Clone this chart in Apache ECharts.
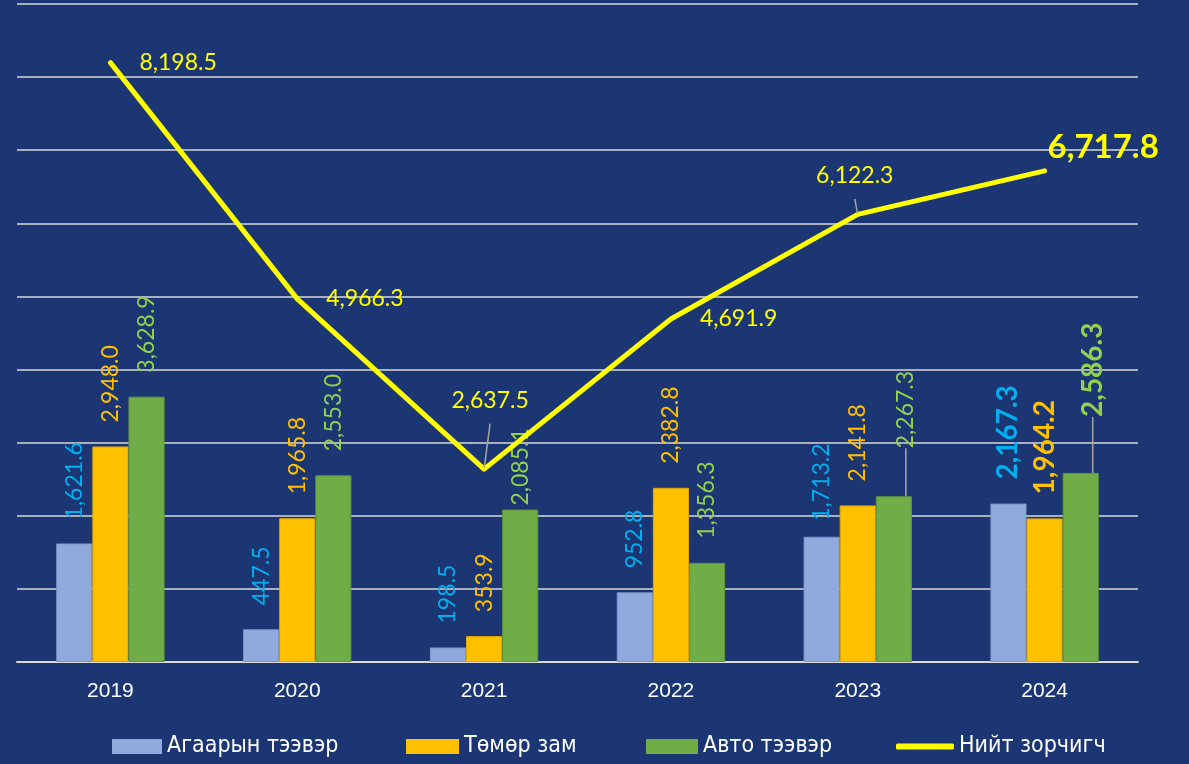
<!DOCTYPE html>
<html>
<head>
<meta charset="utf-8">
<script src="https://cdn.jsdelivr.net/npm/echarts@6/dist/echarts.min.js"></script>
<style>
html,body{margin:0;padding:0;background:#1b3673;}
#chart{width:1189px;height:764px;}
</style>
</head>
<body>
<div id="chart"></div>
<script>
const years = ['2019', '2020', '2021', '2022', '2023', '2024'];
const airValues = [1621.6, 447.5, 198.5, 952.8, 1713.2, 2167.3];
const railValues = [2948.0, 1965.8, 353.9, 2382.8, 2141.8, 1964.2];
const roadValues = [3628.9, 2553.0, 2085.1, 1356.3, 2267.3, 2586.3];
const totalValues = [8198.5, 4966.3, 2637.5, 4691.9, 6122.3, 6717.8];
const seriesNames = ['Агаарын тээвэр', 'Төмөр зам', 'Авто тээвэр', 'Нийт зорчигч'];

const fmt = v => v.toLocaleString('en-US', {minimumFractionDigits: 1, maximumFractionDigits: 1});
const labelFont = 'Lato, "Open Sans", sans-serif';
const lastIdx = years.length - 1;

function barData(values, extra) {
  return values.map((v, i) => {
    const item = {value: v};
    if (i === lastIdx) item.label = {fontSize: 28, fontWeight: 'bold'};
    if (extra && extra[i]) Object.assign(item, extra[i]);
    return item;
  });
}

function barSeries(name, values, color, border, labelColor, extra, layout) {
  return {
    name: name,
    type: 'bar',
    data: barData(values, extra),
    barGap: '0%',
    barCategoryGap: '42%',
    itemStyle: {color: color, borderColor: border, borderWidth: 1},
    label: {
      show: true,
      position: 'top',
      rotate: 90,
      align: 'left',
      verticalAlign: 'middle',
      distance: 24,
      color: labelColor,
      fontFamily: labelFont,
      fontSize: 23,
      formatter: p => fmt(p.value)
    },
    labelLine: {show: false, lineStyle: {color: '#a6a6a6', width: 1.5}},
    labelLayout: layout,
    z: 2
  };
}

const airExtra = {4: {label: {distance: 16}}};
const roadExtra = {2: {label: {distance: 4}}, 4: {labelLine: {show: true}}, 5: {labelLine: {show: true}}};
// label is rotated: dx runs along the text (upwards), dy across it
const roadLayout = function (p) {
  if (p.dataIndex === 4) return {dx: 24, dy: 12};
  if (p.dataIndex === 5) return {dx: 32, dy: 12};
  return {};
};

const lineData = totalValues.map((v, i) => {
  const item = {value: v};
  if (i === 2) { item.label = {position: 'top', distance: 56, offset: [6, 0]}; item.labelLine = {show: true}; }
  if (i === 4) { item.label = {position: 'top', distance: 26, offset: [-3, 0]}; item.labelLine = {show: true}; }
  if (i === lastIdx) { item.label = {position: 'right', distance: 2, offset: [0, -23], fontSize: 33, fontWeight: 'bold'}; }
  return item;
});

const chart = echarts.init(document.getElementById('chart'), null, {renderer: 'canvas'});
const legendText = {color: '#ffffff', fontSize: 23, fontFamily: '"Liberation Sans Narrow", "DejaVu Sans Condensed", "Liberation Sans", sans-serif'};
function legend(name, left, icon, w, h) {
  return {
    data: [name], left: left, top: 730, icon: icon, itemWidth: w, itemHeight: h,
    itemGap: 0, textStyle: legendText, selectedMode: false,
    itemStyle: {borderWidth: 0}
  };
}

chart.setOption({
  backgroundColor: '#1b3673',
  animation: false,
  grid: {left: 17, right: 51, top: 4, bottom: 102},
  legend: [
    legend(seriesNames[0], 107, 'rect', 50, 15),
    legend(seriesNames[1], 401, 'rect', 53, 15),
    legend(seriesNames[2], 641, 'rect', 52, 15),
    legend(seriesNames[3], 891, 'roundRect', 58, 6)
  ],
  xAxis: {
    type: 'category',
    data: years,
    axisLine: {show: true, lineStyle: {color: '#d9d9d9', width: 2}},
    axisTick: {show: false},
    axisLabel: {color: '#ffffff', fontSize: 21, fontFamily: '"Liberation Sans", Arial, sans-serif', margin: 19}
  },
  yAxis: {
    type: 'value',
    min: 0, max: 9000, interval: 1000,
    axisLine: {show: false},
    axisTick: {show: false},
    axisLabel: {show: false},
    splitLine: {show: true, lineStyle: {color: '#d9d9d9', width: 1.5}}
  },
  series: [
    barSeries(seriesNames[0], airValues, '#8faadc', '#7d97c8', '#00b0f0', airExtra),
    barSeries(seriesNames[1], railValues, '#ffc000', '#e0a800', '#ffc000'),
    barSeries(seriesNames[2], roadValues, '#70ad47', '#5f963b', '#92d050', roadExtra, roadLayout),
    {
      name: seriesNames[3],
      type: 'line',
      data: lineData,
      symbol: 'circle',
      symbolSize: 2,
      showSymbol: true,
      itemStyle: {color: '#ffff00'},
      lineStyle: {color: '#ffff00', width: 5, cap: 'round', join: 'round'},
      label: {
        show: true,
        position: 'right',
        distance: 28,
        color: '#ffff00',
        fontFamily: labelFont,
        fontSize: 23,
        formatter: p => fmt(p.value)
      },
      labelLine: {show: false, lineStyle: {color: '#a6a6a6', width: 1.5}},
      z: 5
    }
  ]
});
</script>
</body>
</html>
